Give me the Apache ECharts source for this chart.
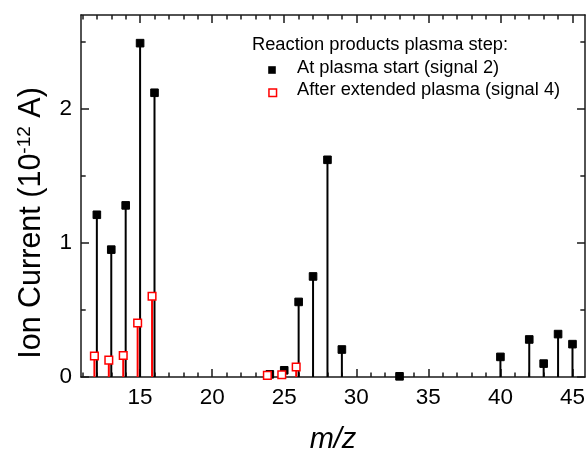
<!DOCTYPE html>
<html>
<head>
<meta charset="utf-8">
<script src="https://cdn.jsdelivr.net/npm/echarts@6/dist/echarts.min.js"></script>
<style>
html,body{margin:0;padding:0;background:#fff;}
#chart{width:588px;height:459px;}
</style>
</head>
<body>
<div id="chart"></div>
<script>
// m/z positions and ion currents (1e-12 A)
var mzSignal2 = [12, 13, 14, 15, 16, 24, 25, 26, 27, 28, 29, 33, 40, 42, 43, 44, 45];
var signal2 = [1.21, 0.95, 1.28, 2.49, 2.12, 0.02, 0.05, 0.56, 0.75, 1.62, 0.205, 0.005, 0.15, 0.28, 0.10, 0.32, 0.245];
var mzSignal4 = [11.83, 12.83, 13.83, 14.83, 15.83, 23.83, 24.83, 25.83];
var signal4 = [0.157, 0.126, 0.16, 0.403, 0.602, 0.012, 0.017, 0.075];

var xMajorTicks = [15, 20, 25, 30, 35, 40, 45];
var xMinorTicks = [11, 12, 13, 14, 16, 17, 18, 19, 21, 22, 23, 24, 26, 27, 28, 29, 31, 32, 33, 34, 36, 37, 38, 39, 41, 42, 43, 44];
var yMajorTicks = [0, 1, 2];
var yMinorTicks = [0.5, 1.5, 2.5];

var legendTitle = 'Reaction products plasma step:';
var seriesNames = ['At plasma start (signal 2)', 'After extended plasma (signal 4)'];

var FONT = 'Arial, "Liberation Sans", Helvetica, sans-serif';
var AXC = '#1a1a1a';

function pairs(xs, ys) { return xs.map(function (x, i) { return [x, ys[i]]; }); }

function stemRenderer(stroke, fill, lw) {
  return function (params, api) {
    var x = api.value(0), y = api.value(1);
    var b = api.coord([x, 0]);
    var t = api.coord([x, y]);
    return {
      type: 'group',
      children: [
        { type: 'line', shape: { x1: b[0], y1: b[1], x2: t[0], y2: t[1] }, style: { stroke: stroke, lineWidth: 2 } },
        { type: 'rect', shape: { x: t[0] - 3.8, y: t[1] - 3.8, width: 7.6, height: 7.6 }, style: { fill: fill, stroke: stroke, lineWidth: lw } }
      ]
    };
  };
}

var xMin = 10.9, xMax = 45.87, yMin = 0, yMax = 2.7;

function xAx(pos, ticks, len, line, labels) {
  return {
    type: 'value', min: xMin, max: xMax, position: pos,
    axisLine: { show: line, onZero: false, lineStyle: { color: AXC, width: 1.5 } },
    axisTick: { show: true, inside: true, length: len, customValues: ticks, lineStyle: { color: AXC, width: 1.5 } },
    axisLabel: labels ? { show: true, customValues: ticks, fontSize: 22.5, color: '#000', fontFamily: FONT, margin: 9 } : { show: false },
    splitLine: { show: false }
  };
}
function yAx(pos, ticks, len, line, labels) {
  return {
    type: 'value', min: yMin, max: yMax, position: pos,
    axisLine: { show: line, onZero: false, lineStyle: { color: AXC, width: 1.5 } },
    axisTick: { show: true, inside: true, length: len, customValues: ticks, lineStyle: { color: AXC, width: 1.5 } },
    axisLabel: labels ? { show: true, customValues: ticks, fontSize: 22.5, color: '#000', fontFamily: FONT, margin: 9 } : { show: false },
    splitLine: { show: false }
  };
}

var xAxes = [
  xAx('bottom', xMajorTicks, 8, true, true),
  xAx('bottom', xMinorTicks, 4.5, false, false),
  xAx('top', xMajorTicks, 8, true, false),
  xAx('top', xMinorTicks, 4.5, false, false)
];
xAxes[0].name = 'm/z';
xAxes[0].nameLocation = 'middle';
xAxes[0].nameGap = 48;
xAxes[0].nameTextStyle = { fontSize: 29, fontStyle: 'italic', color: '#000', fontFamily: FONT };

var yAxes = [
  yAx('left', yMajorTicks, 8, true, true),
  yAx('left', yMinorTicks, 4.7, false, false),
  yAx('right', yMajorTicks, 8, true, false),
  yAx('right', yMinorTicks, 4.7, false, false)
];
yAxes[0].name = '{a|Ion Current (10}{s|-12}{a| A)}';
yAxes[0].nameLocation = 'middle';
yAxes[0].nameGap = 32;
yAxes[0].nameRotate = 90;
yAxes[0].nameTextStyle = {
  color: '#000', fontFamily: FONT, padding: [0, 54, 0, 0],
  rich: {
    a: { fontSize: 30.5, fontFamily: FONT, color: '#000' },
    s: { fontSize: 19, fontFamily: FONT, color: '#000', padding: [0, 0, 15, 0] }
  }
};

var chart = echarts.init(document.getElementById('chart'), null, { renderer: 'canvas' });
chart.setOption({
  animation: false,
  backgroundColor: '#fff',
  grid: { left: 81, right: 1.3, top: 15, bottom: 72, containLabel: false },
  xAxis: xAxes,
  yAxis: yAxes,
  graphic: [
    { type: 'text', left: 252, top: 36, style: { text: legendTitle, fontSize: 18.3, fontFamily: FONT, fill: '#000' } },
    { type: 'rect', left: 268.2, top: 66.2, shape: { width: 7.6, height: 7.6 }, style: { fill: '#000' } },
    { type: 'text', left: 297, top: 59, style: { text: seriesNames[0], fontSize: 18.3, fontFamily: FONT, fill: '#000' } },
    { type: 'rect', left: 268.2, top: 88.2, shape: { width: 7.6, height: 7.6 }, style: { fill: '#fff', stroke: '#ff0000', lineWidth: 1.5 } },
    { type: 'text', left: 297, top: 81, style: { text: seriesNames[1], fontSize: 18.3, fontFamily: FONT, fill: '#000' } }
  ],
  series: [
    {
      name: seriesNames[0], type: 'custom', xAxisIndex: 0, yAxisIndex: 0,
      renderItem: stemRenderer('#000', '#000', 1),
      encode: { x: 0, y: 1 },
      data: pairs(mzSignal2, signal2), z: 2
    },
    {
      name: seriesNames[1], type: 'custom', xAxisIndex: 0, yAxisIndex: 0,
      renderItem: stemRenderer('#ff0000', '#fff', 1.5),
      encode: { x: 0, y: 1 },
      data: pairs(mzSignal4, signal4), z: 3
    }
  ]
});
</script>
</body>
</html>
